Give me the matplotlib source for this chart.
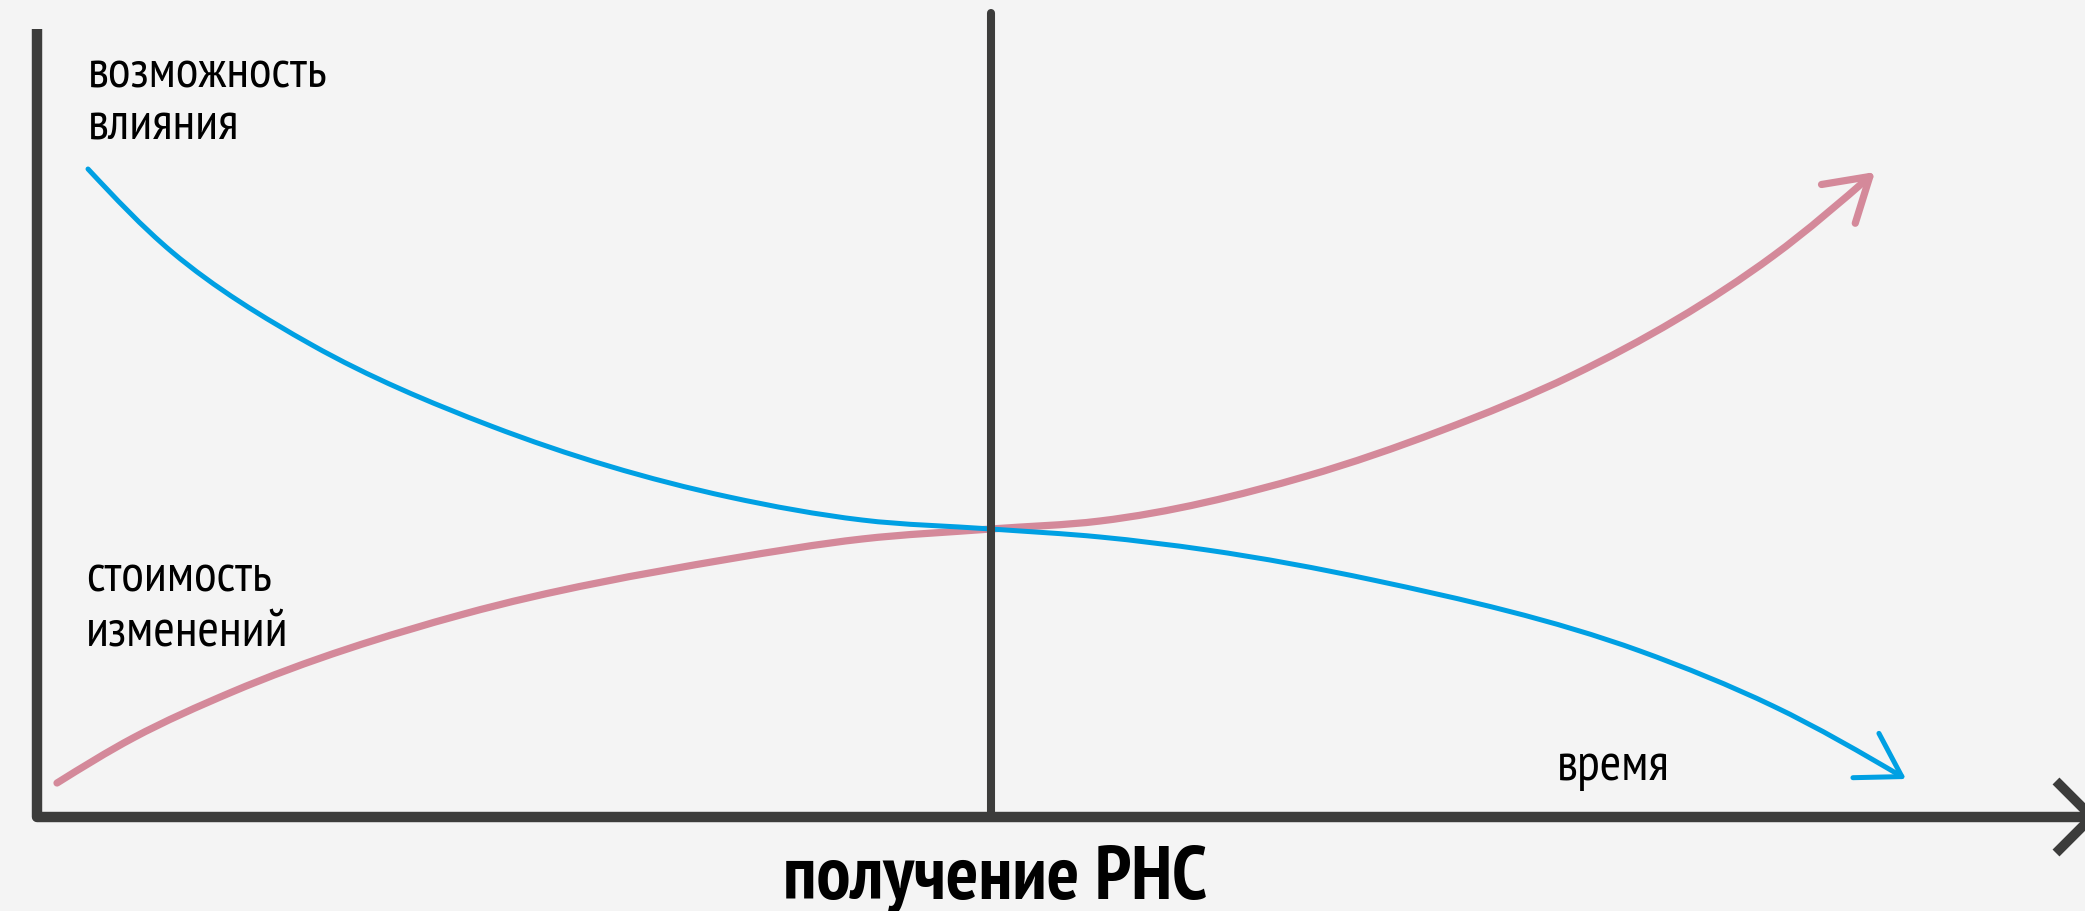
import matplotlib
matplotlib.use("Agg")
import matplotlib.pyplot as plt
from matplotlib.path import Path
from matplotlib.patches import FancyArrowPatch
import numpy as np

# points, in the pixel grid of the original (y grows down)
blue_x = [88, 172, 312, 491, 729, 862, 991, 1100, 1207, 1373, 1640, 1773, 1906]
blue_y = [169, 252, 345, 426, 497, 520, 529, 537, 550, 580, 651, 706, 779]
pink_x = [57, 133, 232, 464, 729, 862, 991, 1100, 1307, 1440, 1573, 1773, 1875]
pink_y = [783, 738, 692, 614, 559, 539, 529, 521, 476, 431, 375, 256, 172]
milestone_x = 991
labels_top = ["возможность", "влияния"]
labels_bottom = ["стоимость", "изменений"]
time_label = "время"
milestone_label = "получение РНС"

BG = "#f4f4f4"
DARK = "#3c3c3b"
BLUE = "#00a0e3"
PINK = "#d4899a"
FONT = ["PT Sans Narrow", "DejaVu Sans"]


def smooth_path(xs, ys):
    # cubic through the read points (chord-length tangents), as bezier segments
    p = np.column_stack([xs, ys]).astype(float)
    d = np.hypot(*np.diff(p, axis=0).T)
    sl = np.diff(p, axis=0) / d[:, None]
    m = np.zeros_like(p)
    for i in range(1, len(p) - 1):
        m[i] = (d[i] * sl[i - 1] + d[i - 1] * sl[i]) / (d[i - 1] + d[i])
    m[0] = (3 * sl[0] - m[1]) / 2
    m[-1] = (3 * sl[-1] - m[-2]) / 2
    verts = [p[0]]
    codes = [Path.MOVETO]
    for i in range(len(p) - 1):
        verts += [p[i] + m[i] * d[i] / 3, p[i + 1] - m[i + 1] * d[i] / 3, p[i + 1]]
        codes += [Path.CURVE4] * 3
    return Path(verts, codes)


fig = plt.figure(figsize=(20.85, 9.11), dpi=100, facecolor=BG)
ax = fig.add_axes([0, 0, 1, 1])
ax.set_facecolor(BG)
ax.set_xlim(0, 2085)
ax.set_ylim(911, 0)
ax.axis("off")

# axes frame: left + bottom with chevron, plus the milestone line
ax.plot([37, 37, 2095], [29, 817, 817], color=DARK, lw=7.5,
        solid_joinstyle="round", solid_capstyle="butt")
ax.plot([2056, 2092, 2056], [781, 817, 853], color=DARK, lw=7,
        solid_joinstyle="miter", solid_capstyle="butt")
ax.plot([milestone_x, milestone_x], [13, 817], color=DARK, lw=5.8,
        solid_capstyle="round")

for xs, ys, col, lw in [(pink_x, pink_y, PINK, 5.2), (blue_x, blue_y, BLUE, 3.6)]:
    arr = FancyArrowPatch(path=smooth_path(xs, ys), transform=ax.transData,
                          arrowstyle="->,head_length=30,head_width=18.5",
                          mutation_scale=1, color=col, lw=lw,
                          capstyle="round", joinstyle="round")
    ax.add_patch(arr)

ax.text(88, 87, labels_top[0], fontsize=37.5, family=FONT, color="black")
ax.text(88, 140, labels_top[1], fontsize=37.5, family=FONT, color="black")
ax.text(86, 592, labels_bottom[0], fontsize=37.5, family=FONT, color="black")
ax.text(86, 645, labels_bottom[1], fontsize=37.5, family=FONT, color="black")
ax.text(1557, 780, time_label, fontsize=37.5, family=FONT, color="black")
ax.text(995, 899, milestone_label, fontsize=55, family=FONT, weight="bold",
        ha="center", color="black")

fig.savefig("out.png", dpi=100, facecolor=BG)
